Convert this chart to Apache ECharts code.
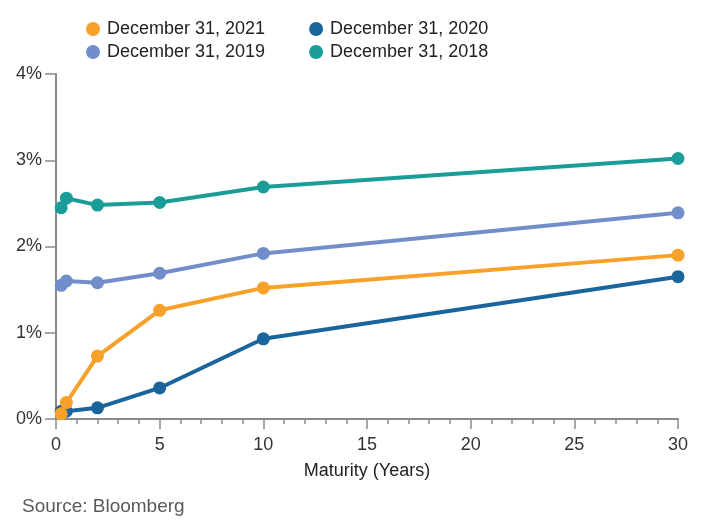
<!DOCTYPE html>
<html>
<head>
<meta charset="utf-8">
<script src="https://cdn.jsdelivr.net/npm/echarts@6/dist/echarts.min.js"></script>
<style>
  html, body { margin: 0; padding: 0; background: #fff; }
  #chart { width: 709px; height: 523px; }
</style>
</head>
<body>
<div id="chart"></div>
<script>
// maturities in years: 3M, 6M, 2Y, 5Y, 10Y, 30Y
var maturities = [0.25, 0.5, 2, 5, 10, 30];
var yield2021 = [0.06, 0.19, 0.73, 1.26, 1.52, 1.90];
var yield2020 = [0.09, 0.09, 0.13, 0.36, 0.93, 1.65];
var yield2019 = [1.55, 1.60, 1.58, 1.69, 1.92, 2.39];
var yield2018 = [2.45, 2.56, 2.48, 2.51, 2.69, 3.02];
var seriesNames = ["December 31, 2021", "December 31, 2020", "December 31, 2019", "December 31, 2018"];
var seriesColors = ["#f7a02a", "#1a659c", "#718ecb", "#1a9d98"];

var font = "Liberation Sans, Arial, Helvetica, sans-serif";
var axisGray = "#8a8a8a";

function pairs(ys) {
  return maturities.map(function (x, i) { return [x, ys[i]]; });
}

function makeSeries(idx, ys) {
  return {
    name: seriesNames[idx],
    type: "line",
    data: pairs(ys),
    symbol: "circle",
    symbolSize: 13,
    color: seriesColors[idx],
    lineStyle: { width: 4, color: seriesColors[idx] },
    itemStyle: { color: seriesColors[idx] },
    emphasis: { disabled: true }
  };
}

var myChart = echarts.init(document.getElementById("chart"));
var option = {
  animation: false,
  textStyle: { fontFamily: font },
  title: {
    text: "Source: Bloomberg",
    left: 17,
    top: 492,
    textStyle: { fontSize: 19, fontWeight: "normal", color: "#5a5a5a", fontFamily: font }
  },
  legend: [
    {
      data: [seriesNames[0], seriesNames[1]],
      left: 81, top: 15,
      icon: "circle", itemWidth: 14, itemHeight: 14,
      itemGap: 44,
      textStyle: { fontSize: 18, color: "#222", fontFamily: font, padding: [0, 0, 0, 2] }
    },
    {
      data: [seriesNames[2], seriesNames[3]],
      left: 81, top: 38,
      icon: "circle", itemWidth: 14, itemHeight: 14,
      itemGap: 44,
      textStyle: { fontSize: 18, color: "#222", fontFamily: font, padding: [0, 0, 0, 2] }
    }
  ],
  grid: { left: 56, right: 31, top: 74, bottom: 104 },
  xAxis: {
    type: "value",
    min: 0, max: 30, interval: 5,
    name: "Maturity (Years)",
    nameLocation: "middle",
    nameGap: 43,
    nameTextStyle: { fontSize: 18, color: "#222", fontFamily: font },
    axisLine: { show: true, lineStyle: { color: axisGray, width: 2 } },
    axisTick: { show: true, length: 10, lineStyle: { color: axisGray, width: 1.5 } },
    minorTick: { show: true, splitNumber: 5, length: 5, lineStyle: { color: axisGray, width: 1.5 } },
    axisLabel: { fontSize: 18, color: "#333", margin: 17, fontFamily: font },
    splitLine: { show: false }
  },
  yAxis: {
    type: "value",
    min: 0, max: 4, interval: 1,
    axisLine: { show: true, lineStyle: { color: axisGray, width: 2 } },
    axisTick: { show: true, length: 11, lineStyle: { color: axisGray, width: 1.5 } },
    axisLabel: { fontSize: 18, color: "#333", margin: 14, fontFamily: font, formatter: "{value}%" },
    splitLine: { show: false }
  },
  series: [
    makeSeries(3, yield2018),
    makeSeries(2, yield2019),
    makeSeries(1, yield2020),
    makeSeries(0, yield2021)
  ]
};
option && myChart.setOption(option);
window.addEventListener("resize", function () {
  myChart.resize();
});
</script>
</body>
</html>
